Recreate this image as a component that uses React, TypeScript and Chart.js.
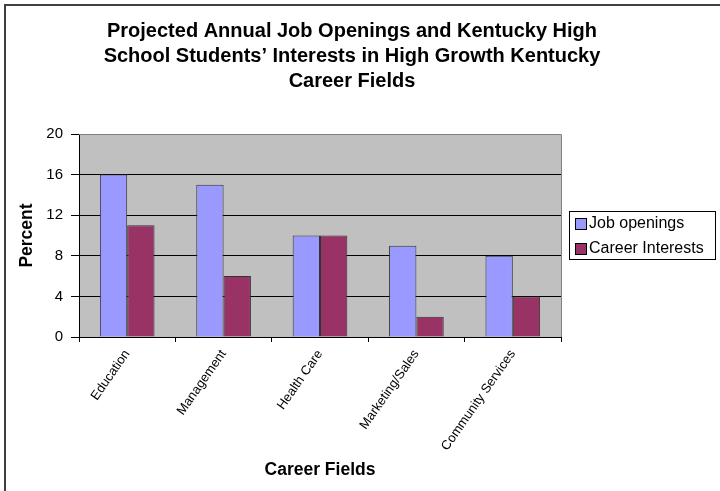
import React, { useEffect, useRef } from "react";
import { Chart, registerables } from "chart.js";

Chart.register(...registerables);

const titleLines = [
  "Projected Annual Job Openings and Kentucky High",
  "School Students\u2019 Interests in High Growth Kentucky",
  "Career Fields",
];
const categories = ["Education", "Management", "Health Care", "Marketing/Sales", "Community Services"];
const jobOpenings = [16, 15, 10, 9, 8];
const careerInterests = [11, 6, 10, 2, 4];
const seriesNames = ["Job openings", "Career Interests"];
const yTicks = [0, 4, 8, 12, 16, 20];
const xAxisTitle = "Career Fields";
const yAxisTitle = "Percent";

const FONT = "'Liberation Sans', Arial, Helvetica, sans-serif";

const plotBg = {
  id: "plotBg",
  beforeDraw(chart: any) {
    const { ctx, chartArea: a } = chart;
    ctx.save();
    ctx.fillStyle = "#c0c0c0";
    ctx.fillRect(a.left, a.top, a.right - a.left, a.bottom - a.top);
    ctx.restore();
  },
  beforeDatasetsDraw(chart: any) {
    const { ctx, chartArea: a } = chart;
    ctx.save();
    ctx.strokeStyle = "#808080";
    ctx.lineWidth = 1;
    ctx.beginPath();
    ctx.moveTo(a.left, Math.round(a.top) + 0.5);
    ctx.lineTo(Math.round(a.right) + 0.5, Math.round(a.top) + 0.5);
    ctx.lineTo(Math.round(a.right) + 0.5, a.bottom);
    ctx.stroke();
    ctx.restore();
  },
  afterDraw(chart: any) {
    const { ctx, chartArea: a, width, height } = chart;
    ctx.save();
    // outer frame (left & top visible)
    ctx.fillStyle = "#404040";
    ctx.fillRect(4, 4, 2, height - 4);
    ctx.fillRect(4, 4, width - 4, 2);
    // legend
    const lx = Math.round(a.right) + 8;
    const ly = Math.round((a.top + a.bottom) / 2) - 25;
    ctx.strokeStyle = "#000";
    ctx.lineWidth = 1;
    ctx.strokeRect(lx + 0.5, ly + 0.5, 146, 48);
    ctx.font = "16px " + FONT;
    ctx.textBaseline = "middle";
    ctx.textAlign = "left";
    chart.data.datasets.forEach((ds: any, i: number) => {
      const by = ly + 7 + i * 25;
      ctx.fillStyle = ds.backgroundColor;
      ctx.fillRect(lx + 6, by, 11, 11);
      ctx.strokeStyle = "#000";
      ctx.strokeRect(lx + 6.5, by + 0.5, 11, 11);
      ctx.fillStyle = "#000";
      ctx.fillText(ds.label, lx + 20, by + 6);
    });
    ctx.restore();
  },
};

export default function App() {
  const ref = useRef<HTMLCanvasElement | null>(null);
  useEffect(() => {
    if (!ref.current) return;
    Chart.defaults.font.family = FONT;
    Chart.defaults.color = "#000";
    const chart = new Chart(ref.current, {
      type: "bar",
      data: {
        labels: categories,
        datasets: [
          {
            label: seriesNames[0],
            data: jobOpenings,
            backgroundColor: "#9999ff",
            borderColor: "#333333",
            borderWidth: 1,
            categoryPercentage: 0.567,
            barPercentage: 1,
          },
          {
            label: seriesNames[1],
            data: careerInterests,
            backgroundColor: "#993366",
            borderColor: "#333333",
            borderWidth: 1,
            categoryPercentage: 0.567,
            barPercentage: 1,
          },
        ],
      },
      plugins: [plotBg],
      options: {
        responsive: false,
        animation: false,
        devicePixelRatio: 1,
        layout: { padding: { left: 4, right: 20, top: 0, bottom: 0 } },
        plugins: {
          legend: { display: false },
          tooltip: { enabled: false },
          title: {
            display: true,
            text: titleLines,
            color: "#000",
            font: { family: FONT, size: 20, weight: "bold", lineHeight: "24.7px" },
            padding: { top: 19.5, bottom: 40.4 },
          },
        },
        scales: {
          x: {
            offset: true,
            grid: { display: true, offset: true, drawOnChartArea: false, color: "#000", tickLength: 5 },
            border: { display: true, color: "#000" },
            ticks: { minRotation: 55, maxRotation: 55, autoSkip: false, padding: 5, font: { size: 13 }, color: "#000" },
            title: {
              display: true,
              text: xAxisTitle,
              color: "#000",
              font: { size: 17.5, weight: "bold", lineHeight: 1.2 },
              padding: { top: 0, bottom: 10.5 },
            },
            afterFit(s: any) {
              s.height = 154;
            },
          },
          y: {
            min: 0,
            max: 20,
            afterBuildTicks(s: any) {
              s.ticks = yTicks.map((v) => ({ value: v }));
            },
            grid: {
              color: (c: any) => (c.tick && c.tick.value === 20 ? "#808080" : "#000"),
              tickColor: "#000",
              tickLength: 8,
            },
            border: { display: true, color: "#000" },
            ticks: { padding: 8, font: { size: 15 }, color: "#000" },
            title: {
              display: true,
              text: yAxisTitle,
              color: "#000",
              font: { size: 17.5, weight: "bold", lineHeight: 1.2 },
              padding: { top: 12.5, bottom: 0 },
            },
            afterFit(s: any) {
              s.width = 75;
            },
          },
          y2: {
            type: "linear",
            position: "right",
            display: true,
            grid: { display: false },
            border: { display: false },
            ticks: { display: false },
            afterFit(s: any) {
              s.width = 139;
            },
          },
        },
      } as any,
    });
    return () => chart.destroy();
  }, []);
  return (
    <div style={{ position: "absolute", left: 0, top: 0, width: 720, height: 491, background: "#fff" }}>
      <canvas ref={ref} width={720} height={491} style={{ display: "block" }} />
    </div>
  );
}
